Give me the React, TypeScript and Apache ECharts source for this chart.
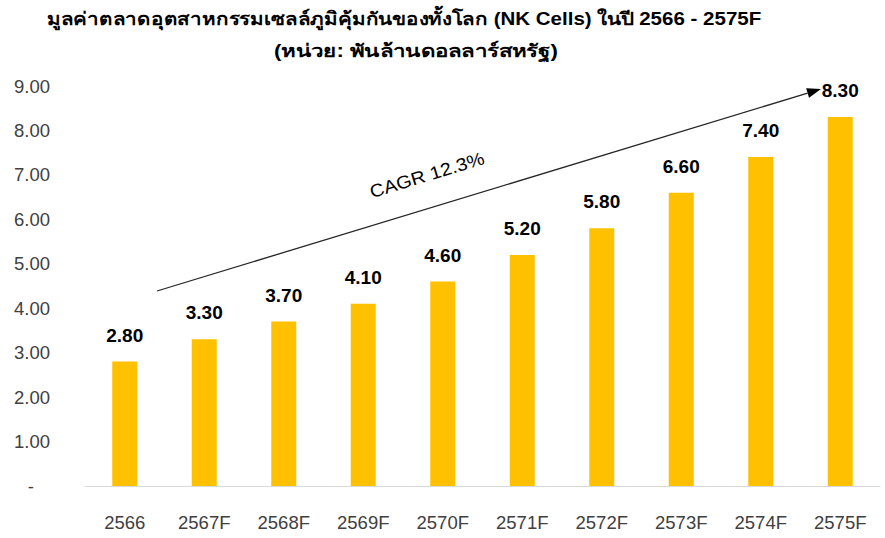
import React, { useEffect, useRef } from "react";
import * as echarts from "echarts";

const categories = ["2566", "2567F", "2568F", "2569F", "2570F", "2571F", "2572F", "2573F", "2574F", "2575F"];
const values = [2.8, 3.3, 3.7, 4.1, 4.6, 5.2, 5.8, 6.6, 7.4, 8.3];
const yMin = 0;
const yMax = 9;
const yInterval = 1;
const titleLines = [
  "มูลค่าตลาดอุตสาหกรรมเซลล์ภูมิคุ้มกันของทั้งโลก (NK Cells) ในปี 2566 - 2575F",
  "(หน่วย: พันล้านดอลลาร์สหรัฐ)",
];
const cagrLabel = "CAGR 12.3%";

const FONT = "'Liberation Sans', Arial, 'Noto Sans', sans-serif";

export default function App() {
  const ref = useRef<HTMLDivElement>(null);
  useEffect(() => {
    if (!ref.current) return;
    const chart = echarts.init(ref.current, undefined, { renderer: "svg" });
    // arrow geometry (annotation)
    const sx = 157, sy = 291, tx = 821, ty = 89;
    const dx = tx - sx, dy = ty - sy;
    const len = Math.sqrt(dx * dx + dy * dy);
    const ux = dx / len, uy = dy / len;
    const ah = 14, aw = 5;
    const bx = tx - ah * ux, by = ty - ah * uy;
    const nx = -uy, ny = ux;
    const angle = Math.atan2(-dy, dx);
    chart.setOption({
      animation: false,
      backgroundColor: "#ffffff",
      grid: { left: 85, right: 5, top: 86, bottom: 52, containLabel: false },
      xAxis: {
        type: "category",
        data: categories,
        axisLine: { show: true, lineStyle: { color: "#d9d9d9", width: 1 } },
        axisTick: { show: false },
        axisLabel: { color: "#404040", fontSize: 18.5, fontFamily: FONT, margin: 27 },
      },
      yAxis: {
        type: "value",
        min: yMin,
        max: yMax,
        interval: yInterval,
        splitLine: { show: false },
        axisLine: { show: false },
        axisTick: { show: false },
        axisLabel: {
          color: "#404040",
          fontSize: 18.5,
          fontFamily: FONT,
          margin: 35,
          formatter: (v: number) => (v === 0 ? "{d|-}" : v.toFixed(2)),
          rich: { d: { color: "#404040", fontSize: 18.5, fontFamily: FONT, padding: [0, 16, 0, 0] } },
        },
      },
      series: [
        {
          type: "bar",
          data: values,
          barWidth: 25,
          itemStyle: { color: "#FFC000" },
          label: {
            show: true,
            position: "top",
            distance: 17,
            color: "#000000",
            fontSize: 19,
            fontWeight: "bold",
            fontFamily: FONT,
            formatter: (p: any) => Number(p.value).toFixed(2),
          },
        },
      ],
      graphic: [
        {
          type: "text",
          x: 404,
          y: 19,
          scaleX: 1.14,
          style: {
            text: titleLines[0],
            fontSize: 18,
            fontWeight: "bold",
            fontFamily: FONT,
            fill: "#000",
            align: "center",
            verticalAlign: "middle",
          },
        },
        {
          type: "text",
          x: 416,
          y: 51,
          scaleX: 1.24,
          style: {
            text: titleLines[1],
            fontSize: 18,
            fontWeight: "bold",
            fontFamily: FONT,
            fill: "#000",
            align: "center",
            verticalAlign: "middle",
          },
        },
        {
          type: "line",
          shape: { x1: sx, y1: sy, x2: bx, y2: by },
          style: { stroke: "#262626", lineWidth: 1.3 },
        },
        {
          type: "polygon",
          shape: {
            points: [
              [tx, ty],
              [bx + aw * nx, by + aw * ny],
              [bx - aw * nx, by - aw * ny],
            ],
          },
          style: { fill: "#000" },
        },
        {
          type: "text",
          x: 427,
          y: 175,
          rotation: angle,
          scaleX: 1.1,
          style: {
            text: cagrLabel,
            fontSize: 18,
            fontFamily: FONT,
            fill: "#000",
            align: "center",
            verticalAlign: "middle",
          },
        },
      ],
    });
    return () => chart.dispose();
  }, []);
  return <div ref={ref} style={{ width: 885, height: 538, position: "absolute", left: 0, top: 0 }} />;
}
